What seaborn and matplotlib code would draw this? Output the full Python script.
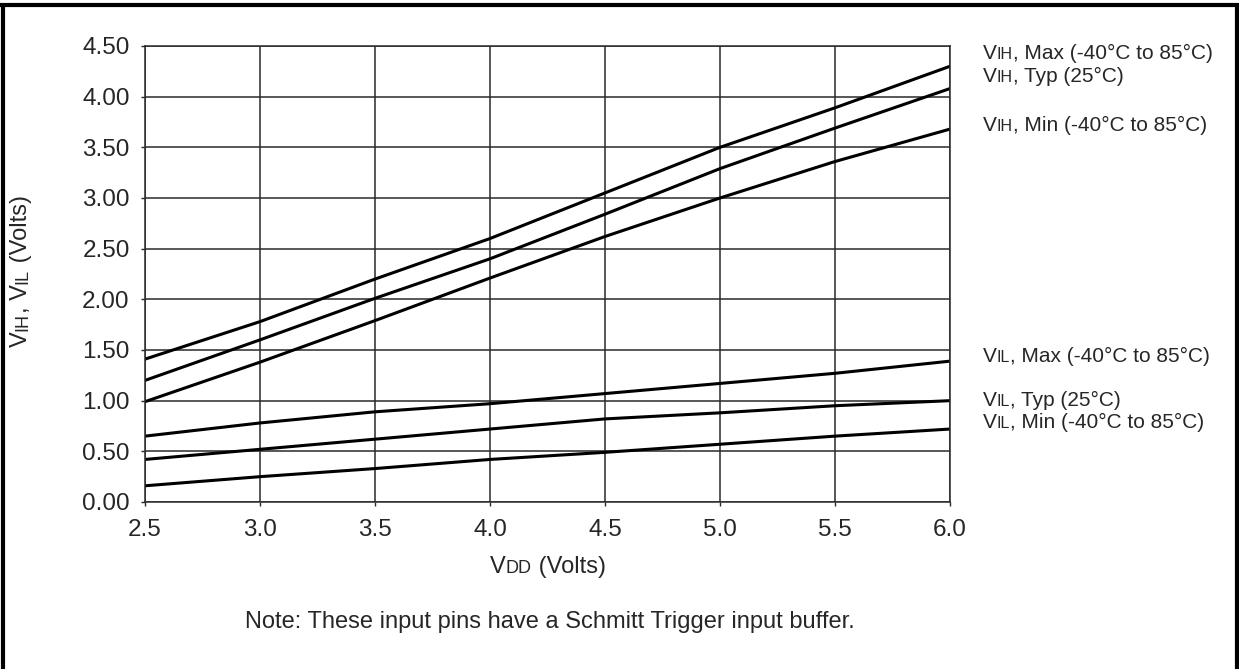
"""
Input high/low voltage vs VDD (Schmitt trigger inputs)
"""
import pandas as pd
import numpy as np
import seaborn as sns
import matplotlib
matplotlib.use("Agg")
import matplotlib.pyplot as plt
from matplotlib.lines import Line2D

vdd = [2.5, 3.0, 3.5, 4.0, 4.5, 5.0, 5.5, 6.0]

vih_max = [1.41, 1.78, 2.20, 2.60, 3.05, 3.50, 3.89, 4.30]
vih_typ = [1.20, 1.60, 2.01, 2.40, 2.84, 3.29, 3.69, 4.08]
vih_min = [0.99, 1.38, 1.79, 2.21, 2.62, 3.00, 3.36, 3.68]
vil_max = [0.65, 0.78, 0.89, 0.97, 1.07, 1.17, 1.27, 1.39]
vil_typ = [0.42, 0.52, 0.62, 0.72, 0.82, 0.88, 0.95, 1.00]
vil_min = [0.16, 0.25, 0.33, 0.42, 0.49, 0.57, 0.65, 0.72]

curve_names = ["vih_max", "vih_typ", "vih_min", "vil_max", "vil_typ", "vil_min"]

# right-hand labels: (small caps part, rest, y in pixels from top)
label_parts = [
    ("IH", ", Max (-40\u00b0C to 85\u00b0C)", 52),
    ("IH", ", Typ (25\u00b0C)", 75),
    ("IH", ", Min (-40\u00b0C to 85\u00b0C)", 124),
    ("IL", ", Max (-40\u00b0C to 85\u00b0C)", 355),
    ("IL", ", Typ (25\u00b0C)", 399),
    ("IL", ", Min (-40\u00b0C to 85\u00b0C)", 421),
]

x_ticks = [2.5, 3.0, 3.5, 4.0, 4.5, 5.0, 5.5, 6.0]
y_ticks = [0.0, 0.5, 1.0, 1.5, 2.0, 2.5, 3.0, 3.5, 4.0, 4.5]

LBL = 15
LBL_SMALL = 11.5
TICK = 17.5
AXIS = 17
AXIS_SMALL = 13


def rich_text(fig, x, y, parts, rotation=0, center=False):
    # place pieces of text one after another on the same baseline
    r = fig.canvas.get_renderer()
    items = []
    total = 0
    for s, sz in parts:
        t = fig.text(0, 0, s, fontsize=sz, rotation=rotation, ha="left",
                     va="baseline", rotation_mode="anchor")
        bb = t.get_window_extent(r)
        w = bb.width if rotation == 0 else bb.height
        items.append((t, w))
        total += w
    W, H = fig.bbox.width, fig.bbox.height
    off = -total / 2 if center else 0
    for t, w in items:
        if rotation == 0:
            t.set_position((x + off / W, y))
        else:
            t.set_position((x, y + off / H))
        off += w


def main():
    data = {"vih_max": vih_max, "vih_typ": vih_typ, "vih_min": vih_min,
            "vil_max": vil_max, "vil_typ": vil_typ, "vil_min": vil_min}
    rows = []
    for name in curve_names:
        for v, val in zip(vdd, data[name]):
            rows.append({"curve": name, "vdd": v, "volts": val})
    df = pd.DataFrame(rows)

    sns.set_style("white")
    plt.rcParams["font.family"] = ["Liberation Sans", "DejaVu Sans"]

    fig = plt.figure(figsize=(12.39, 6.69), dpi=100)
    W, H = 1239, 669
    ax = fig.add_axes([145 / W, 1 - 502 / H, (950 - 145) / W, (502 - 46) / H])

    sns.lineplot(data=df, x="vdd", y="volts", units="curve", estimator=None,
                 color="black", linewidth=2.2, ax=ax, legend=False)

    ax.set_xlim(2.5, 6.0)
    ax.set_ylim(0, 4.5)
    ax.set_xticks(x_ticks)
    ax.set_xticklabels([f"{v:.1f}" for v in x_ticks])
    ax.set_yticks(y_ticks)
    ax.set_yticklabels([f"{v:.2f}" for v in y_ticks])
    ax.grid(True, color="#2a2a2a", linewidth=1.1)
    ax.tick_params(labelsize=TICK, length=3, width=1, color="#2a2a2a",
                   direction="out", left=True, bottom=True)
    ax.tick_params(axis="x", pad=9)
    ax.tick_params(axis="y", pad=8)
    for sp in ax.spines.values():
        sp.set_color("#2a2a2a")
        sp.set_linewidth(1.1)
    ax.set_xlabel("")
    ax.set_ylabel("")

    fig.canvas.draw()

    for sub, rest, ypx in label_parts:
        rich_text(fig, 983 / W, 1 - (ypx + 7) / H,
                  [("V", LBL), (sub, LBL_SMALL), (rest, LBL)])

    rich_text(fig, 548 / W, 1 - 573 / H,
              [("V", AXIS), ("DD", AXIS_SMALL), (" (Volts)", AXIS)], center=True)
    rich_text(fig, 27 / W, 1 - 271 / H,
              [("V", AXIS), ("IH", AXIS_SMALL), (", V", AXIS), ("IL", AXIS_SMALL),
               (" (Volts)", AXIS)], rotation=90, center=True)

    fig.text(550 / W, 1 - 622 / H,
             "Note: These input pins have a Schmitt Trigger input buffer.",
             fontsize=AXIS, ha="center", va="center")

    # page frame around the figure
    frame = dict(color="black", linewidth=3, transform=fig.transFigure)
    fig.add_artist(Line2D([0, 1], [1 - 5 / H, 1 - 5 / H], **frame))
    fig.add_artist(Line2D([3 / W, 3 / W], [0, 1 - 5 / H], **frame))
    fig.add_artist(Line2D([1 - 2 / W, 1 - 2 / W], [0, 1 - 5 / H], **frame))

    fig.savefig("out.png", dpi=100)


if __name__ == "__main__":
    main()
